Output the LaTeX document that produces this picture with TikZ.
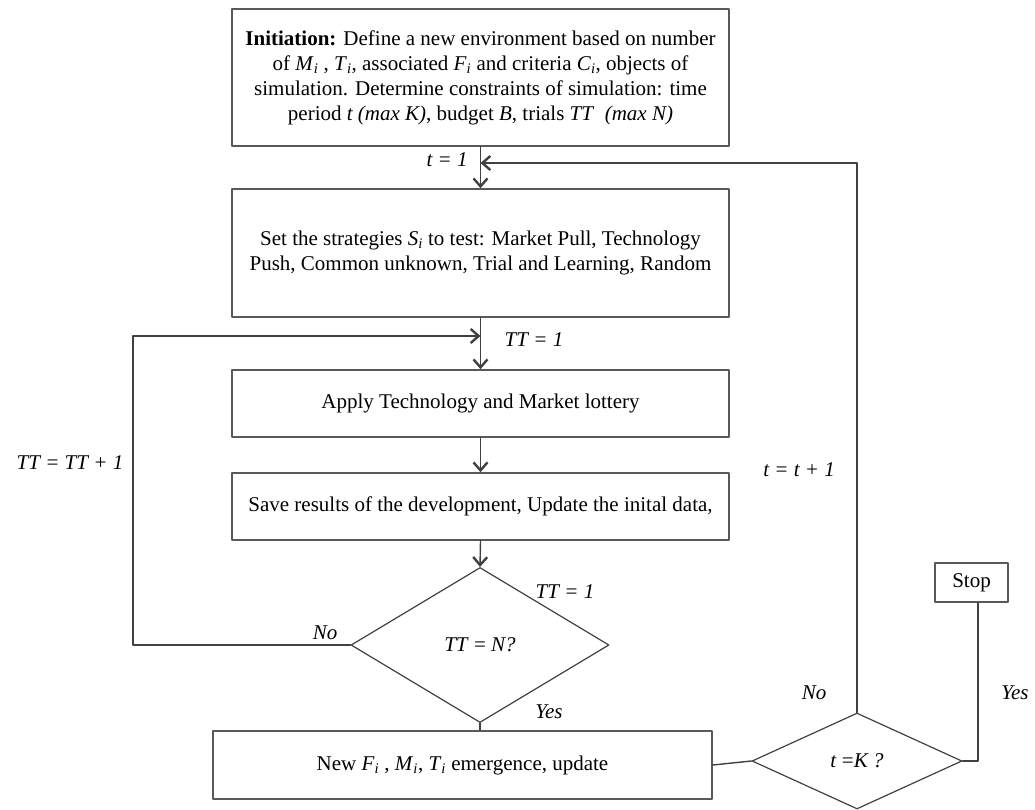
\documentclass[tikz,border=0pt]{standalone}
\usepackage{fontspec}
\setmainfont{Liberation Serif}
\usetikzlibrary{arrows.meta,shapes.geometric}
\newcommand{\vsub}[2]{\textit{#1}\textsubscript{\textit{#2}}}

\begin{document}
\begin{tikzpicture}[x=1pt, y=-1pt, line cap=round, line join=round,
    font=\fontsize{21}{25}\selectfont,
    box/.style={draw=black!65, line width=1.6pt, rectangle, minimum width=497pt, align=center, inner sep=0pt},
    dec/.style={draw=black!75, line width=1.2pt, diamond, inner sep=0pt},
    flow/.style={draw=black!75, line width=1.4pt},
    arr/.style={flow, -{Straight Barb[length=8pt,width=14pt,line width=2.4pt]}},
    lab/.style={font=\fontsize{21}{25}\selectfont\itshape}]
    % 画布
    \useasboundingbox (0,0) rectangle (1035,810);

    % 主流程方框
    \node[box, minimum height=137pt] (init) at (480.5,77.5)
    {\textbf{Initiation:} Define a new environment based on number\\
     of \vsub{M}{i} , \vsub{T}{i}, associated \vsub{F}{i} and criteria \vsub{C}{i}, objects of\\
     simulation. Determine constraints of simulation: time\\
     period \textit{t (max K)}, budget \textit{B}, trials \textit{TT}\ \ \textit{(max N)}};
    \node[box, minimum height=128pt] (strat) at (480.5,253)
    {Set the strategies \vsub{S}{i} to test: Market Pull, Technology\\
     Push, Common unknown, Trial and Learning, Random};
    \node[box, minimum height=67pt] (lottery) at (480.5,403.5)
    {Apply Technology and Market lottery};
    \node[box, minimum height=67pt] (save) at (480.5,506.5)
    {Save results of the development, Update the inital data,};

    % 判断
    \node[dec, minimum width=258pt, minimum height=155pt] (dTT) at (480,645)
    {\textit{TT} = \textit{N?}};
    \node[box, minimum width=499pt, minimum height=68pt] (update) at (462.5,765)
    {New \vsub{F}{i} , \vsub{M}{i}, \vsub{T}{i} emergence, update};
    \node[dec, minimum width=210pt, minimum height=96pt] (dK) at (857,761)
    {\textit{t} =\textit{K ?}};
    \node[box, minimum width=73pt, minimum height=39pt] (stop) at (971.5,582.5) {Stop};

    % 汇合点
    \coordinate (jt) at (480.5,163);
    \coordinate (jTT) at (480.5,336);

    % 连线
    \draw[arr] (init.south) -- (strat.north);
    \draw[arr] (strat.south) -- (lottery.north);
    \draw[arr] (lottery.south) -- (save.north);
    \draw[arr] (save.south) -- (dTT.north);
    \draw[flow] (dTT.south) -- (dTT.south |- update.north);
    \draw[flow] (update.east) -- (dK.west);

    % 回路
    \draw[arr] (dTT.west) -- (133,645) |- (jTT);
    \draw[arr] (dK.north) |- (jt);
    \draw[flow] (dK.east) -| ([xshift=6.5pt]stop.south);

    % 标注
    \node[lab] (lt1) at (447,160) {t = 1};
    \node[lab] (lTT1) at (534,340) {TT = 1};
    \node[lab] (lTTinc) at (70,463) {TT = TT + 1};
    \node[lab] (lno1) at (325,633) {No};
    \node[lab] (lTTa) at (565,592) {TT = 1};
    \node[lab] (lyes1) at (549,712) {Yes};
    \node[lab] (ltinc) at (799,470) {t = t + 1};
    \node[lab] (lno2) at (814,693) {No};
    \node[lab] (lyes2) at (1015,693) {Yes};
\end{tikzpicture}
\end{document}
